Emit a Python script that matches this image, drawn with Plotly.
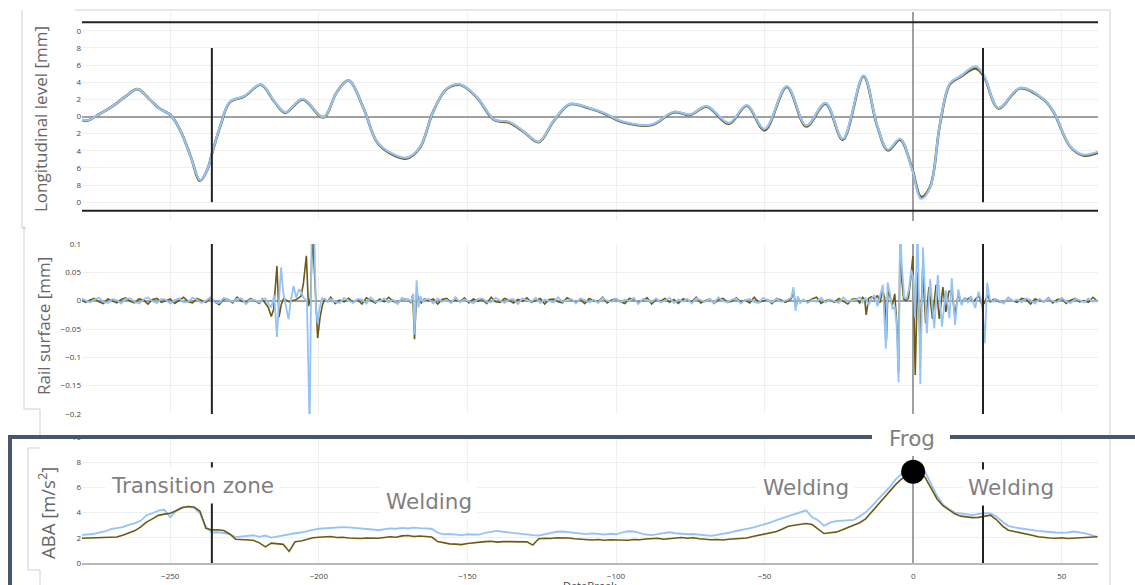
import plotly.graph_objects as go

W, H = 1135, 585

BLUE = "#96c3f5"
OLIVE = "#6b5a12"
LIMIT_BLACK = "#222222"
FRAME = "#cfcfcf"
SLATE = "#485669"
GRID = "#efefef"
ZERO = "#a0a0a0"

# ---------------- Longitudinal level [mm] ----------------
long_x = [-281, -278, -275, -273, -269, -265, -261, -257, -253.5, -250,
          -246.5, -243, -240, -237.5, -236, -233, -230, -225, -219.5, -215,
          -211.3, -205.5, -198.5, -194, -190, -185, -180.5, -176, -170.5, -166,
          -161.5, -157, -152.5, -147, -141, -136, -131, -126, -121, -115.5,
          -109, -104, -97.5, -88, -80.5, -75, -69.5, -62, -56, -50,
          -42.5, -36, -29.5, -23.7, -16.7, -12.2, -8.5, -4.4, -0.5, 2.7,
          5.7, 9, 12.4, 15.8, 21, 23.7, 28.7, 36, 44, 47.2,
          52.8, 57.3, 63]
long_blue = [-0.25, -0.47, 0.05, 0.45, 1.3, 2.35, 3.2, 2.0, 0.9, 0.2,
             -1.7, -4.8, -7.45, -6.2, -4.4, -0.9, 1.7, 2.4, 3.75, 1.8,
             0.5, 2.05, -0.1, 2.8, 4.22, 1.0, -2.9, -4.2, -4.8, -3.6,
             0.6, 3.25, 3.75, 2.35, -0.35, -0.62, -1.75, -2.95, -0.5, 1.47,
             1.0, 0.4, -0.62, -0.93, 0.55, 0.23, 1.2, -0.75, 1.32, -1.45,
             3.55, -1.05, 1.6, -2.6, 4.8, -0.93, -3.85, -2.6, -6.0, -9.6,
             -8.3, -0.9, 3.9, 4.7, 5.85, 4.9, 1.0, 3.35, 2.0, 0.6,
             -3.45, -4.45, -4.0]
long_olive = [-0.3, -0.5, 0.05, 0.45, 1.3, 2.35, 3.2, 2.0, 0.9, 0.2,
              -1.7, -4.8, -7.5, -6.2, -4.4, -0.95, 1.65, 2.35, 3.7, 1.75,
              0.45, 2.0, -0.1, 2.8, 4.2, 1.0, -2.95, -4.3, -4.9, -3.65,
              0.6, 3.2, 3.7, 2.3, -0.4, -0.7, -1.8, -3.0, -0.55, 1.42,
              0.95, 0.35, -0.68, -1.0, 0.5, 0.18, 1.15, -0.85, 1.25, -1.6,
              3.45, -1.15, 1.5, -2.7, 4.7, -1.0, -3.95, -2.7, -5.9, -9.4,
              -8.2, -0.95, 3.8, 4.6, 5.6, 4.75, 0.95, 3.3, 1.95, 0.55,
              -3.5, -4.55, -4.1]

# ---------------- Rail surface [mm] ----------------
# Background roughness sampled every 1.5 m from -280, in micrometres
rail_start, rail_step = -280.0, 1.5
rail_olive_um = [
    2, -3, 1, 4, -2, -5, 3, 0, -4, 2,
    5, -1, -4, 3, 1, -6, 2, 4, -3, 0,
    3, -5, 1, 6, -2, -4, 4, 1, -3, 5,
    -2, -7, 3, 2, -4, 6, -1, -3, 4, 0,
    -5, 3, 2, -2, 7, -3, -1, 4, -6, 2,
    3, -4, 5, 0, -3, 2, 6, -5, 1, -2,
    4, -3, 2, -6, 5, 1, -4, 3, -2, 6,
    -1, -5, 4, 2, -3, 1, 5, -4, 0, 3,
    -6, 2, 4, -3, 1, -2, 5, -4, 3, -1,
    2, -5, 6, -2, -3, 4, 1, -4, 2, -1,
    5, -3, 0, 4, -6, 2, 3, -2, -4, 5,
    1, -3, 2, -5, 4, 0, -2, 6, -4, 1,
    3, -2, -5, 4, 2, -3, 1, 5, -6, 2,
    -1, 4, -3, 2, -5, 3, 1, -2, 6, -4,
    0, 3, -5, 2, 4, -3, -1, 5, -2, 1,
    -4, 6, -3, 0, 2, -5, 4, 1, -3, 2,
    5, -4, 1, -2, 3, 6, -5, 0, 2, -3,
    4, -1, -6, 3, 2, -4, 5, -2, 1, -3,
    6, -4, 2, 0, -5, 3, 4, -2, -3, 5,
    -1, 2, -6, 4, 1, -3, 5, -2, 0, 3,
    -4, 2, 6, -5, 1, 3, -2, -4, 5, 0,
    -3, 4, 2, -6, 3, 1, -2, 5, -4, 2,
    3, -5, 1, 4, -2, 0, -3, 6, -1]
rail_blue_um = [
    4, 0, -3, 2, 5, -2, -4, 3, 1, -5,
    3, 4, -2, -5, 2, 6, -1, -4, 3, 2,
    -5, 1, 4, -3, -2, 5, 2, -4, 0, 6,
    -3, -4, 5, 1, -2, 3, 4, -6, 2, 1,
    -3, 5, -1, -4, 4, 2, -5, 3, 0, -2,
    6, -3, -1, 4, -5, 2, 3, -2, -4, 5,
    0, -4, 3, 2, -5, 6, -2, -1, 4, -3,
    2, -6, 5, 1, -3, 4, -2, 0, 3, -5,
    4, -2, 1, -4, 6, -3, 2, -1, -5, 3,
    4, -2, -3, 5, 0, -4, 2, 3, -6, 4,
    1, -2, 5, -4, 2, -1, -3, 6, -2, 0,
    3, -5, 4, 1, -3, 2, -4, 5, 0, -2,
    4, -3, 2, -1, 5, -6, 3, 1, -2, 4,
    -3, 0, 5, -4, 2, -2, 3, -5, 4, 1,
    -2, 3, -4, 6, -1, -3, 2, 4, -5, 1,
    3, -2, -4, 5, 1, -3, 4, -2, 0, 6,
    -5, 2, 3, -4, 1, -2, 5, -3, 2, -1,
    -4, 6, -2, 1, -5, 3, 2, -3, 4, -1,
    0, -5, 3, 4, -2, 1, -4, 5, -3, 2,
    3, -1, -4, 6, -2, 0, 3, -5, 2, 4,
    -3, 1, 5, -2, -4, 3, 0, -5, 6, -1,
    2, -3, 4, 1, -5, 3, -2, 4, -1, -3,
    5, -2, -4, 3, 1, -3, 4, -2, 0]

# Local events on the rail surface (mm)
weld1_olive_x = [-219, -218, -217, -216, -215.2, -214.1, -213.4, -212.6, -211.8, -211,
                 -210, -209, -208, -207, -206, -205.2, -204.2, -203.5, -202.8, -202.1,
                 -201.3, -200.4, -199.6, -198.8, -198, -197]
weld1_olive_y = [0.003, -0.004, -0.012, -0.028, -0.015, 0.061, -0.029, -0.006, 0.004, 0.001,
                 -0.002, 0.0, 0.001, 0.004, 0.008, 0.03, 0.079, -0.01, 0.005, 0.12,
                 0.04, -0.066, -0.03, -0.008, 0.003, -0.002]
weld1_blue_x = [-219, -218, -217, -216, -215, -214.1, -213.3, -212.7, -212, -211,
                -210.2, -209.4, -208.5, -207.6, -206.7, -206, -205, -204, -203.1, -202.4,
                -201.6, -201, -200.4, -199.8, -199, -198, -197]
weld1_blue_y = [0.002, 0.004, -0.005, -0.012, 0.01, -0.064, 0.01, 0.059, 0.015, -0.012,
                -0.033, 0.002, 0.026, 0.005, 0.02, 0.015, 0.004, 0.0, -0.23, 0.13,
                0.13, -0.01, -0.04, -0.015, 0.004, 0.003, -0.002]

weld2_olive_x = [-170, -169, -168.4, -167.8, -167.1, -166.4, -165.5, -164.5]
weld2_olive_y = [0.002, -0.004, 0.01, -0.068, 0.015, 0.002, -0.004, 0.003]
weld2_blue_x = [-170, -169, -168.2, -167.8, -167.1, -166.5, -165.8, -165, -164.5]
weld2_blue_y = [0.003, -0.002, 0.012, -0.06, 0.036, -0.012, 0.008, -0.003, 0.002]

weld3_olive_x = [-42, -41, -40.2, -39.5, -38.7, -38, -37]
weld3_olive_y = [0.0, 0.004, 0.016, -0.012, 0.005, -0.003, 0.001]
weld3_blue_x = [-42, -41, -40.3, -39.6, -38.8, -38, -37]
weld3_blue_y = [0.002, 0.006, 0.024, -0.018, 0.008, -0.004, 0.002]

frog_olive_x = [-19, -18, -17, -16.3, -15.8, -15, -14, -13, -12, -11.2,
                -10.3, -9.6, -9.0, -8.5, -7.8, -7, -6.2, -5.4, -4.9, -4.4,
                -3.8, -3.2, -2.4, -1.6, -0.8, -0.1, 0.7, 1.5, 2.3, 3.2,
                4.2, 5.3, 6.5, 7.7, 8.8, 10.0, 11, 12.0, 13.0, 14,
                15.2, 16.2, 17.2, 18.2, 19.2, 20.3, 21.2, 22.2, 23.2, 24.0,
                25.0, 26, 27]
frog_olive_y = [0.003, -0.004, 0.006, 0.002, -0.025, 0.004, 0.007, 0.003, 0.009, -0.004,
                0.018, 0.006, -0.07, 0.02, 0.008, -0.008, 0.012, -0.05, -0.128, 0.12,
                0.035, 0.003, 0.0, 0.004, 0.04, 0.079, -0.131, 0.05, -0.07, 0.055,
                -0.04, 0.024, -0.032, 0.028, -0.032, 0.024, -0.02, 0.016, 0.018, -0.025,
                0.012, -0.004, 0.004, 0.002, 0.006, -0.002, 0.004, 0.008, -0.008, -0.004,
                0.01, -0.002, 0.002]
frog_blue_x = [-19, -18, -17, -16, -15, -14, -13, -12, -11.2, -10.2,
               -9.2, -8.6, -7.8, -7.0, -6.2, -5.6, -4.9, -4.4, -3.8, -3.0,
               -2.2, -1.4, -0.7, 0.0, 0.6, 1.5, 2.4, 3.3, 4.6, 5.7,
               7.1, 8.3, 9.7, 11.0, 12.2, 13.0, 14.1, 15.2, 16.3, 17.4,
               18.4, 19.5, 20.9, 22.0, 23.2, 24.1, 24.9, 25.8, 27]
frog_blue_y = [0.002, 0.006, -0.003, 0.005, -0.008, 0.004, 0.01, -0.01, 0.008, 0.028,
               -0.085, 0.032, 0.012, -0.015, -0.01, -0.04, -0.144, 0.13, 0.06, 0.005,
               0.004, 0.02, 0.055, 0.04, -0.03, 0.13, -0.147, 0.094, -0.058, 0.038,
               -0.049, 0.045, -0.046, 0.018, -0.031, 0.04, -0.043, 0.02, -0.008, 0.006,
               -0.004, 0.008, -0.013, 0.016, -0.004, -0.075, 0.032, 0.002, -0.002]

# ---------------- ABA [m/s²] ----------------
aba_start, aba_step = -280, 2
aba_blue = [
    2.22, 2.25, 2.30, 2.42, 2.50, 2.68, 2.78, 2.85, 3.02, 3.15,
    3.35, 3.78, 3.95, 4.15, 4.22, 3.62, 4.18, 4.42, 4.48, 4.38,
    3.95, 2.85, 2.42, 2.44, 2.38, 2.30, 2.05, 2.10, 2.12, 2.20,
    2.08, 2.18, 2.02, 2.12, 2.20, 2.30, 2.36, 2.42, 2.55, 2.62,
    2.72, 2.75, 2.80, 2.82, 2.84, 2.83, 2.80, 2.76, 2.70, 2.66,
    2.60, 2.65, 2.74, 2.72, 2.78, 2.74, 2.80, 2.76, 2.74, 2.72,
    2.40, 2.28, 2.30, 2.25, 2.22, 2.28, 2.24, 2.25, 2.40, 2.48,
    2.55, 2.48, 2.42, 2.35, 2.30, 2.28, 2.22, 2.18, 2.30, 2.42,
    2.48, 2.50, 2.45, 2.40, 2.35, 2.30, 2.35, 2.30, 2.26, 2.32,
    2.28, 2.42, 2.52, 2.50, 2.38, 2.26, 2.22, 2.30, 2.42, 2.44,
    2.36, 2.32, 2.28, 2.30, 2.24, 2.18, 2.16, 2.24, 2.30, 2.40,
    2.52, 2.58, 2.70, 2.80, 2.92, 3.05, 3.22, 3.40, 3.55, 3.72,
    3.86, 4.00, 4.18, 3.62, 3.40, 2.95, 3.20, 3.32, 3.35, 3.38,
    3.42, 3.70, 4.02, 4.50, 5.00, 5.50, 6.00, 6.60, 7.05, 7.40,
    7.60, 7.50, 7.25, 6.30, 5.35, 4.65, 4.28, 4.00, 3.92, 3.85,
    3.80, 3.90, 3.95, 3.94, 3.70, 3.30, 2.95, 2.82, 2.74, 2.66,
    2.60, 2.55, 2.50, 2.44, 2.42, 2.40, 2.42, 2.50, 2.44, 2.35,
    2.22, 2.08]
aba_olive = [
    1.96, 1.98, 2.00, 2.02, 2.06, 2.10, 2.06, 2.20, 2.40, 2.55,
    2.85, 3.25, 3.50, 3.78, 3.88, 3.95, 4.15, 4.38, 4.48, 4.45,
    4.10, 2.75, 2.62, 2.64, 2.58, 2.30, 1.88, 1.86, 1.84, 1.80,
    1.60, 1.28, 1.58, 1.52, 1.48, 0.92, 1.68, 1.74, 1.90, 2.00,
    2.04, 2.06, 2.10, 2.02, 2.04, 1.98, 1.96, 1.94, 1.98, 1.95,
    1.96, 2.02, 2.08, 2.04, 2.15, 2.18, 2.10, 2.14, 2.08, 2.06,
    1.70, 1.58, 1.52, 1.50, 1.46, 1.55, 1.62, 1.68, 1.70, 1.72,
    1.66, 1.70, 1.68, 1.72, 1.70, 1.68, 1.42, 1.92, 1.96, 1.94,
    2.00, 2.02, 1.98, 1.92, 1.90, 1.84, 1.82, 1.86, 1.80, 1.84,
    1.82, 1.84, 1.80, 1.86, 1.84, 1.90, 1.94, 1.96, 1.88, 1.94,
    1.98, 2.02, 1.96, 2.00, 1.92, 1.86, 1.84, 1.86, 1.82, 1.88,
    1.92, 1.96, 1.98, 2.10, 2.20, 2.28, 2.36, 2.50, 2.70, 2.92,
    3.00, 3.08, 3.14, 3.05, 2.70, 2.34, 2.40, 2.45, 2.62, 2.80,
    2.96, 3.20, 3.50, 4.05, 4.60, 5.12, 5.62, 6.20, 6.65, 6.92,
    7.10, 7.05, 6.80, 5.90, 5.10, 4.55, 4.22, 3.90, 3.72, 3.64,
    3.60, 3.62, 3.70, 3.80, 3.45, 2.95, 2.60, 2.50, 2.44, 2.35,
    2.20, 2.08, 2.02, 1.98, 1.96, 2.00, 1.94, 1.96, 1.98, 2.02,
    2.00, 2.08]

frog_x, frog_aba = 0, 7.25
zone_bounds = [-236, 23.5]       # transition-zone limits
level_limit = 11                 # alert limit on longitudinal level
x_range = [-279.7, 62.2]


def spread(start, step, values):
    return [start + step * i for i in range(len(values))]


def merge_events(base_x, base_y, events):
    """Replace the background samples inside each event window by the event samples."""
    windows = [(min(ex), max(ex)) for ex, _ in events]
    pts = [(x, y) for x, y in zip(base_x, base_y)
           if not any(lo <= x <= hi for lo, hi in windows)]
    for ex, ey in events:
        pts.extend(zip(ex, ey))
    pts.sort()
    return [p[0] for p in pts], [p[1] for p in pts]


rail_ox, rail_oy = merge_events(
    spread(rail_start, rail_step, rail_olive_um), [v / 1000 for v in rail_olive_um],
    [(weld1_olive_x, weld1_olive_y), (weld2_olive_x, weld2_olive_y),
     (weld3_olive_x, weld3_olive_y), (frog_olive_x, frog_olive_y)])
rail_bx, rail_by = merge_events(
    spread(rail_start, rail_step, rail_blue_um), [v / 1000 for v in rail_blue_um],
    [(weld1_blue_x, weld1_blue_y), (weld2_blue_x, weld2_blue_y),
     (weld3_blue_x, weld3_blue_y), (frog_blue_x, frog_blue_y)])
aba_x = spread(aba_start, aba_step, aba_blue)

# ---------------- figure ----------------
fig = go.Figure()

fig.add_trace(go.Scatter(x=long_x, y=long_olive, mode="lines", line=dict(color=OLIVE, width=2.6, shape="spline"),
                         xaxis="x", yaxis="y"))
fig.add_trace(go.Scatter(x=long_x, y=long_blue, mode="lines", line=dict(color=BLUE, width=2.2, shape="spline"),
                         xaxis="x", yaxis="y"))
fig.add_trace(go.Scatter(x=rail_ox, y=rail_oy, mode="lines", line=dict(color=OLIVE, width=1.6),
                         xaxis="x2", yaxis="y2"))
fig.add_trace(go.Scatter(x=rail_bx, y=rail_by, mode="lines", line=dict(color=BLUE, width=1.8),
                         xaxis="x2", yaxis="y2"))
fig.add_trace(go.Scatter(x=aba_x, y=aba_blue, mode="lines", line=dict(color=BLUE, width=1.8),
                         xaxis="x3", yaxis="y3"))
fig.add_trace(go.Scatter(x=aba_x, y=aba_olive, mode="lines", line=dict(color=OLIVE, width=1.6),
                         xaxis="x3", yaxis="y3"))
fig.add_trace(go.Scatter(x=[frog_x], y=[frog_aba], mode="markers", marker=dict(color="black", size=24),
                         cliponaxis=False, xaxis="x3", yaxis="y3"))


def py(v):
    return 1 - v / H


def px(v):
    return v / W


x_dom = [px(82), px(1098)]
tickfont = dict(family="Open Sans", size=8, color="#444")

xcommon = dict(range=x_range, domain=x_dom, dtick=50, showgrid=True, gridcolor=GRID, gridwidth=1,
               zeroline=True, zerolinecolor=ZERO, zerolinewidth=1.5, showline=False, tickfont=tickfont,
               automargin=False)
ycommon = dict(showgrid=True, gridcolor=GRID, tickfont=tickfont, automargin=False)
fig.update_layout(
    width=W, height=H, autosize=False, margin=dict(l=0, r=0, t=0, b=0, pad=0),
    paper_bgcolor="white", plot_bgcolor="white", showlegend=False,
    xaxis=dict(**xcommon, anchor="y", showticklabels=False),
    xaxis2=dict(**xcommon, anchor="y2", showticklabels=False),
    xaxis3=dict(**xcommon, anchor="y3", showticklabels=True, ticks="outside", ticklen=4,
                tickcolor="rgba(0,0,0,0)"),
    yaxis=dict(**ycommon, domain=[py(221), py(12)], range=[-12.2, 12.2],
               tickvals=[-10, -8, -6, -4, -2, 0, 2, 4, 6, 8, 10],
               ticktext=["0", "8", "6", "4", "2", "0", "2", "4", "6", "8", "0"],
               zeroline=True, zerolinecolor=ZERO, zerolinewidth=1.5, anchor="x"),
    yaxis2=dict(**ycommon, domain=[py(414), py(244)], range=[-0.2, 0.1], dtick=0.05,
                zeroline=True, zerolinecolor=ZERO, zerolinewidth=1.5, anchor="x2"),
    yaxis3=dict(**ycommon, domain=[py(563), py(437)], range=[0, 10], dtick=2,
                zeroline=False, anchor="x3"),
)
fig.layout.xaxis3.update(showline=True, linecolor="#b8b8b8", linewidth=2)

shapes = []


def seg(x0, y0, x1, y1, color, width):
    shapes.append(dict(type="line", xref="paper", yref="paper", x0=px(x0), y0=py(y0), x1=px(x1), y1=py(y1),
                       line=dict(color=color, width=width), layer="above"))


# panel frames
seg(22, 10, 22, 228, FRAME, 1)
seg(22, 228, 26, 228, FRAME, 1)
seg(75, 10, 1110, 10, FRAME, 1)
seg(1110, 10, 1110, 585, FRAME, 1)
seg(24, 226, 24, 409, FRAME, 1)
seg(24, 409, 40, 409, FRAME, 1)
seg(40, 409, 40, 437, FRAME, 1)
seg(28, 448, 28, 570, FRAME, 1)
seg(28, 448, 40, 448, FRAME, 1)
seg(28, 570, 40, 570, FRAME, 1)
seg(40, 570, 40, 585, FRAME, 1)

# white gap above the frog marker
shapes.append(dict(type="rect", xref="paper", yref="paper", x0=px(880), x1=px(945), y0=py(456), y1=py(439),
                   fillcolor="white", line=dict(width=0), layer="above"))

# slate frame around the ABA panel
seg(8, 437, 872, 437, SLATE, 4)
seg(950, 437, 1135, 437, SLATE, 4)
seg(10, 435, 10, 585, SLATE, 4)

# longitudinal level limits and zone bounds
for lim in (level_limit, -level_limit):
    shapes.append(dict(type="line", xref="paper", yref="y", x0=x_dom[0], x1=x_dom[1], y0=lim, y1=lim,
                       line=dict(color=LIMIT_BLACK, width=2)))
for xb in zone_bounds:
    shapes.append(dict(type="line", xref="x", yref="y", x0=xb, x1=xb, y0=-10, y1=8,
                       line=dict(color=LIMIT_BLACK, width=2)))
    shapes.append(dict(type="line", xref="x2", yref="y2 domain", x0=xb, x1=xb, y0=0, y1=1,
                       line=dict(color=LIMIT_BLACK, width=2)))
    shapes.append(dict(type="line", xref="x3", yref="y3", x0=xb, x1=xb, y0=0, y1=8,
                       line=dict(color=LIMIT_BLACK, width=2)))

fig.update_layout(shapes=shapes)

label_font = dict(family="DejaVu Sans", size=21.5, color="#7f7f7f")
annotations = [
    dict(text="Transition zone", x=-242.6, y=6.15, xref="x3", yref="y3", bgcolor="white", borderpad=5),
    dict(text="Welding", x=-163, y=4.9, xref="x3", yref="y3", bgcolor="white", borderpad=5),
    dict(text="Welding", x=-36, y=6.0, xref="x3", yref="y3", bgcolor="white", borderpad=5),
    dict(text="Welding", x=33, y=6.0, xref="x3", yref="y3", bgcolor="white", borderpad=5),
    dict(text="Frog", x=px(911.5), y=py(438), xref="paper", yref="paper"),
]
for a in annotations:
    a.update(showarrow=False, font=label_font, xanchor="center", yanchor="middle")

title_font = dict(family="Open Sans", size=17, color="#666")
axis_titles = [
    dict(text="Longitudinal level [mm]", x=px(41), y=py(119), textangle=-90, font=title_font),
    dict(text="Rail surface [mm]", x=px(43), y=py(326), textangle=-90, font=title_font),
    dict(text="ABA [m/s<sup>2</sup>]", x=px(46), y=py(513), textangle=-90,
         font=dict(family="Open Sans", size=18.5, color="#666")),
    dict(text="DataBreak", x=px(590), y=py(585.5), font=dict(family="Open Sans", size=11, color="#444")),
]
for a in axis_titles:
    a.update(xref="paper", yref="paper", showarrow=False, xanchor="center", yanchor="middle")

fig.update_layout(annotations=annotations + axis_titles)

fig.write_html("out.html")
